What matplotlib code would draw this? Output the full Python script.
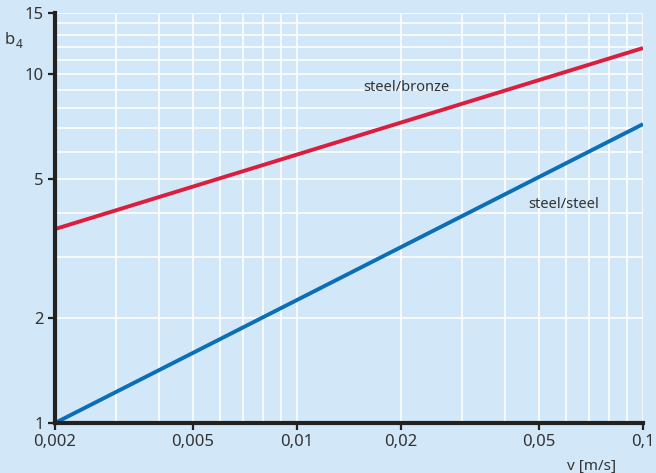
import numpy as np
import matplotlib.pyplot as plt
from matplotlib.ticker import FixedLocator, NullFormatter

# データ (両対数グラフ)
v = [0.002, 0.1]
b4_bronze = [3.6, 11.9]
b4_steel = [1.0, 7.2]

x_ticks = [0.002, 0.005, 0.01, 0.02, 0.05, 0.1]
x_labels = ['0,002', '0,005', '0,01', '0,02', '0,05', '0,1']
x_grid = [0.003, 0.004, 0.006, 0.007, 0.008, 0.009, 0.01, 0.02,
          0.03, 0.04, 0.06, 0.07, 0.08, 0.09, 0.1]
y_ticks = [1, 2, 5, 10, 15]
y_labels = ['1', '2', '5', '10', '15']
y_grid = list(range(2, 16))

bg = '#d2e7f7'
txt = '#333333'
plt.rcParams['font.family'] = ['Noto Sans', 'DejaVu Sans']

fig = plt.figure(figsize=(6.56, 4.73), dpi=100, facecolor=bg)
ax = fig.add_axes([55/656, 50/473, 588/656, 410/473], facecolor=bg)

ax.set_xscale('log')
ax.set_yscale('log')
ax.set_xlim(0.002, 0.1)
ax.set_ylim(1, 15)

# グリッド
ax.xaxis.set_minor_locator(FixedLocator(x_grid))
ax.yaxis.set_minor_locator(FixedLocator(y_grid))
ax.xaxis.set_minor_formatter(NullFormatter())
ax.yaxis.set_minor_formatter(NullFormatter())
ax.grid(True, which='both', color='white', lw=1.2)
ax.set_axisbelow(True)

ax.plot(v, b4_bronze, color='#dc1e3e', lw=2.8, solid_capstyle='butt')
ax.plot(v, b4_steel, color='#0a6fb6', lw=2.8, solid_capstyle='butt')

ax.set_xticks(x_ticks)
ax.set_xticklabels(x_labels)
ax.set_yticks(y_ticks)
ax.set_yticklabels(y_labels)
ax.tick_params(which='major', length=5, width=1.6, color='#222222',
               labelsize=12, labelcolor=txt, pad=3)
ax.tick_params(which='minor', length=0)

for s in ['top', 'right']:
    ax.spines[s].set_visible(False)
for s in ['left', 'bottom']:
    ax.spines[s].set_linewidth(3)
    ax.spines[s].set_color('#222222')

ax.text(0.0156, 8.95, 'steel/bronze', fontsize=10.5, color=txt)
ax.text(0.0465, 4.15, 'steel/steel', fontsize=10.5, color=txt)

fig.text(5/656, 1 - 44/473, 'b', fontsize=12, color=txt)
fig.text(16/656, 1 - 48/473, '4', fontsize=8.5, color=txt)
fig.text(616/656, 1 - 470/473, 'v [m/s]', fontsize=11, color=txt, ha='right')

fig.savefig('out.png', dpi=100, facecolor=bg)
